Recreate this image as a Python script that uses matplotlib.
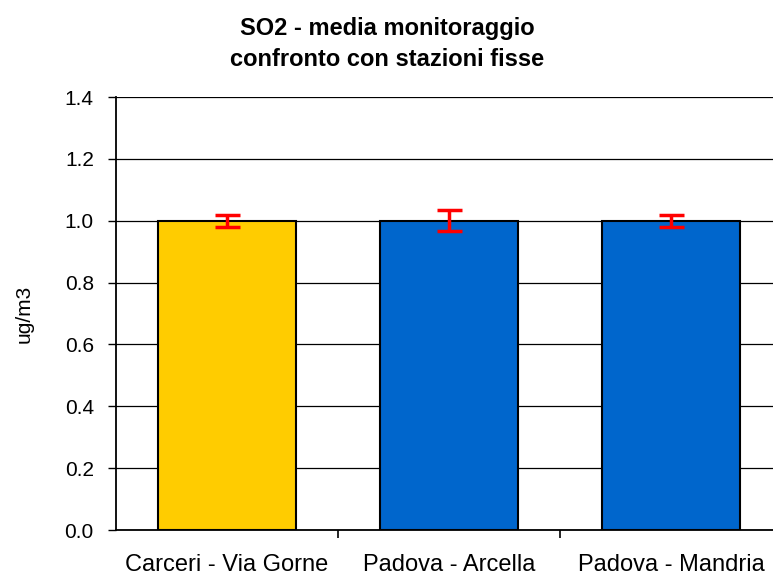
import matplotlib.pyplot as plt

plt.rcParams['font.family'] = ['Liberation Sans', 'DejaVu Sans']

stations = ['Carceri - Via Gorne', 'Padova - Arcella', 'Padova - Mandria']
means = [1.0, 1.0, 1.0]
errors = [0.02, 0.034, 0.02]
colors = ['#FFCC00', '#0066CC', '#0066CC']

fig = plt.figure(figsize=(7.73, 5.78), dpi=100)
ax = fig.add_axes([116/773, 48/578, 666/773, 433/578])

x = range(len(stations))
ax.bar(x, means, width=0.625, color=colors, edgecolor='black', linewidth=1.5, zorder=2)
ax.errorbar(x, means, yerr=errors, fmt='none', ecolor='red', elinewidth=2.5,
            capsize=9, capthick=2.5, zorder=3)

ax.set_xlim(-0.5, 2.5)
ax.set_ylim(0, 1.4)
ax.set_yticks([0, 0.2, 0.4, 0.6, 0.8, 1.0, 1.2, 1.4])
ax.set_yticklabels(['%.1f' % v for v in ax.get_yticks()], fontsize=15)
ax.yaxis.grid(True, color='black', linewidth=0.9, zorder=0)
ax.set_axisbelow(True)

# category ticks between bars, labels centred under bars
ax.set_xticks([0.5, 1.5], minor=False)
ax.set_xticklabels([])
ax.set_xticks(list(x), minor=True)
ax.set_xticklabels(stations, minor=True, fontsize=17)
ax.tick_params(axis='x', which='minor', length=0, pad=17)
ax.tick_params(axis='x', which='major', length=6, direction='out', width=1.2)
ax.tick_params(axis='y', length=6, width=1, pad=10)

ax.spines['top'].set_visible(False)
ax.spines['right'].set_visible(False)
ax.spines['left'].set_linewidth(1.3)
ax.spines['bottom'].set_linewidth(1.3)

ax.set_ylabel('ug/m3', fontsize=15, labelpad=22)
ax.set_title('SO2 - media monitoraggio\nconfronto con stazioni fisse',
             fontsize=17, fontweight='bold', pad=22, linespacing=1.45,
             x=(387-116)/666)

fig.savefig('out.png', dpi=100)
